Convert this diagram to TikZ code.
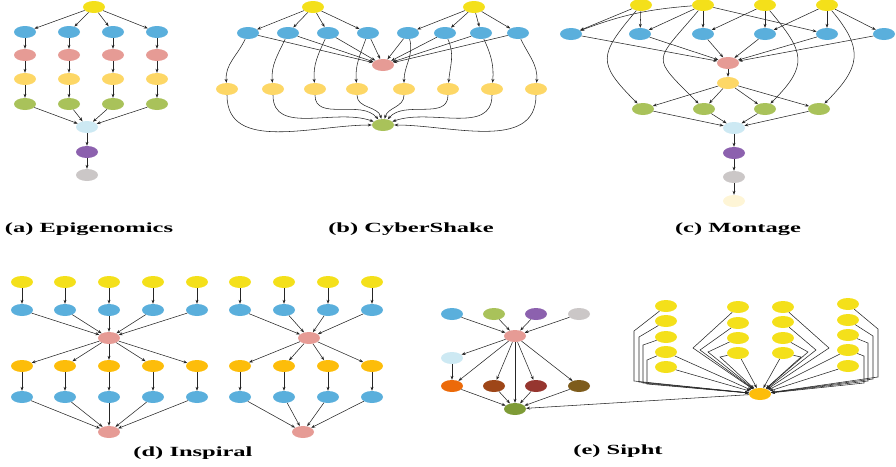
\documentclass[tikz,border=0pt]{standalone}
\usepackage{fontspec}
\setmainfont{Liberation Serif}
\usetikzlibrary{arrows.meta,shapes.geometric}

\definecolor{wfyellow}{HTML}{F4E01A}
\definecolor{wfblue}{HTML}{5AAFDC}
\definecolor{wfpink}{HTML}{E69B95}
\definecolor{wfsand}{HTML}{FDD766}
\definecolor{wfgreen}{HTML}{A9C25A}
\definecolor{wfsky}{HTML}{CDE9F3}
\definecolor{wfpurple}{HTML}{8C61AE}
\definecolor{wfgray}{HTML}{CBC7C7}
\definecolor{wfcream}{HTML}{FEF5D6}
\definecolor{wforange}{HTML}{FDBD0A}
\definecolor{siorange}{HTML}{EC6A09}
\definecolor{sibrown}{HTML}{9E4618}
\definecolor{sired}{HTML}{96362F}
\definecolor{siolive}{HTML}{7E5C1C}
\definecolor{sidkgreen}{HTML}{7E9B36}

\begin{document}
\begin{tikzpicture}[x=1pt, y=-1pt]
\tikzstyle{job}=[ellipse, minimum width=22pt, minimum height=12pt, inner sep=0pt]
\tikzstyle{link}=[-{Stealth[length=4pt,width=3pt]}, black!85, line width=0.55pt]
\tikzstyle{caption}=[font=\fontsize{14}{16}\selectfont\bfseries, xscale=1.75]

\useasboundingbox (0,0) rectangle (896,466);

% (a) Epigenomics
\node[job, fill=wfyellow] (epi-top) at (94,7) {};
\node[job, fill=wfsky] (epi-sky) at (87,127) {};
\node[job, fill=wfpurple] (epi-pur) at (87,152) {};
\node[job, fill=wfgray] (epi-gry) at (87,175) {};
\foreach \i/\x in {1/25,2/69,3/113,4/157} {
    \node[job, fill=wfblue] (epi-b\i) at (\x,32) {};
    \node[job, fill=wfpink] (epi-p\i) at (\x,55) {};
    \node[job, fill=wfsand] (epi-s\i) at (\x,79) {};
    \node[job, fill=wfgreen] (epi-g\i) at (\x,104) {};
    \draw[link] (epi-top) -- (epi-b\i);
    \draw[link] (epi-b\i) -- (epi-p\i);
    \draw[link] (epi-p\i) -- (epi-s\i);
    \draw[link] (epi-s\i) -- (epi-g\i);
    \draw[link] (epi-g\i) -- (epi-sky);
};
\draw[link] (epi-sky) -- (epi-pur);
\draw[link] (epi-pur) -- (epi-gry);
\node[caption] (cap-a) at (89,229) {(a) Epigenomics};

% (b) CyberShake
\node[job, fill=wfyellow] (cyb-t1) at (313,7) {};
\node[job, fill=wfyellow] (cyb-t2) at (474,7) {};
\node[job, fill=wfpink] (cyb-pink) at (383,65) {};
\node[job, fill=wfgreen] (cyb-grn) at (383,125) {};
\foreach \i/\x/\t/\s/\bo/\bi/\gi in {1/248/1/227/-115/95/180, 2/288/1/273/-115/95/160,
        3/328/1/315/-115/95/130, 4/368/1/357/-110/95/105, 5/408/2/404/-75/90/75,
        6/445/2/448/-65/85/50, 7/481/2/492/-65/85/20, 8/518/2/536/-65/85/0} {
    \node[job, fill=wfblue] (cyb-b\i) at (\x,33) {};
    \node[job, fill=wfsand] (cyb-s\i) at (\s,89) {};
    \draw[link] (cyb-t\t) -- (cyb-b\i);
    \draw[link] (cyb-b\i) -- (cyb-pink);
    \draw[link] (cyb-b\i) to[out=\bo, in=\bi] (cyb-s\i);
    \draw[link] (cyb-s\i) to[out=-90, in=\gi] (cyb-grn);
};
\node[caption] (cap-b) at (411,229) {(b) CyberShake};

% (c) Montage
\foreach \i/\x in {1/641,2/703,3/765,4/827}
    \node[job, fill=wfyellow] (mon-t\i) at (\x,5) {};
\foreach \i/\x in {1/571,2/640,3/703,4/765,5/827,6/884}
    \node[job, fill=wfblue] (mon-b\i) at (\x,34) {};
\node[job, fill=wfpink] (mon-pink) at (728,63) {};
\node[job, fill=wfsand] (mon-sand) at (728,83) {};
\node[job, fill=wfsky] (mon-sky) at (734,128) {};
\node[job, fill=wfpurple] (mon-pur) at (734,153) {};
\node[job, fill=wfgray] (mon-gry) at (734,177) {};
\node[job, fill=wfcream] (mon-crm) at (734,201) {};
\foreach \i/\x in {1/643,2/704,3/765,4/819} {
    \node[job, fill=wfgreen] (mon-g\i) at (\x,109) {};
    \draw[link] (mon-sand) -- (mon-g\i);
    \draw[link] (mon-g\i) -- (mon-sky);
};
\foreach \t/\b in {1/1,1/2,2/2,2/3,2/5,3/3,3/4,4/4,4/5,4/6}
    \draw[link] (mon-t\t) -- (mon-b\b);
\draw[link] (mon-t2) to[bend right=8] (mon-b1);
\foreach \b in {1,...,6}
    \draw[link] (mon-b\b) -- (mon-pink);
\draw[link] (mon-t1) to[out=-130, in=135, looseness=1.6] (mon-g1);
\draw[link] (mon-t2) to[out=-130, in=135, looseness=1.9] (mon-g2);
\draw[link] (mon-t3) to[out=-50, in=45, looseness=1.5] (mon-g3);
\draw[link] (mon-t4) to[out=-50, in=45, looseness=1.4] (mon-g4);
\draw[link] (mon-pink) -- (mon-sand);
\draw[link] (mon-sky) -- (mon-pur);
\draw[link] (mon-pur) -- (mon-gry);
\draw[link] (mon-gry) -- (mon-crm);
\node[caption] (cap-c) at (738,229) {(c) Montage};

% (d) Inspiral
\node[job, fill=wfpink] (ins-p1) at (109,338) {};
\node[job, fill=wfpink] (ins-p2) at (309,338) {};
\node[job, fill=wfpink] (ins-q1) at (109,432) {};
\node[job, fill=wfpink] (ins-q2) at (303,432) {};
\foreach \i/\x/\g in {1/22/1,2/65/1,3/109/1,4/153/1,5/197/1,6/240/2,7/284/2,8/328/2,9/372/2} {
    \node[job, fill=wfyellow] (ins-y\i) at (\x,282) {};
    \node[job, fill=wfblue] (ins-b\i) at (\x,310) {};
    \node[job, fill=wforange] (ins-o\i) at (\x,366) {};
    \node[job, fill=wfblue] (ins-c\i) at (\x,397) {};
    \draw[link] (ins-y\i) -- (ins-b\i);
    \draw[link] (ins-b\i) -- (ins-p\g);
    \draw[link] (ins-p\g) -- (ins-o\i);
    \draw[link] (ins-o\i) -- (ins-c\i);
    \draw[link] (ins-c\i) -- (ins-q\g);
};
\node[caption] (cap-d) at (193,453) {(d) Inspiral};

% (e) Sipht
\node[job, fill=wfpink] (sip-pink) at (515,336) {};
\node[job, fill=wfsky] (sip-sky) at (452,358) {};
\node[job, fill=sidkgreen] (sip-grn) at (515,409) {};
\foreach \i/\x/\c in {1/452/wfblue,2/494/wfgreen,3/536/wfpurple,4/579/wfgray}
    \node[job, fill=\c] (sip-t\i) at (\x,314) {};
\foreach \i/\x/\c in {1/452/siorange,2/494/sibrown,3/536/sired,4/579/siolive}
    \node[job, fill=\c] (sip-m\i) at (\x,386) {};
\foreach \i in {1,...,4} {
    \draw[link] (sip-t\i) -- (sip-pink);
    \draw[link] (sip-pink) -- (sip-m\i);
    \draw[link] (sip-m\i) -- (sip-grn);
};
\draw[link] (sip-pink) -- (sip-sky);
\draw[link] (sip-sky) -- (sip-m1);
\draw[link] (sip-pink) -- (sip-grn);

% patser fan
\node[job, fill=wforange] (fan-or) at (760,394) {};
\foreach \j/\y in {1/306,2/321,3/337,4/352,5/367}
    \node[job, fill=wfyellow] (fan-a\j) at (666,\y) {};
\foreach \j/\y in {1/307,2/323,3/338,4/353}
    \node[job, fill=wfyellow] (fan-b\j) at (738,\y) {};
\foreach \j/\y in {1/307,2/322,3/338,4/353}
    \node[job, fill=wfyellow] (fan-c\j) at (783,\y) {};
\foreach \j/\y in {1/304,2/320,3/335,4/350,5/366}
    \node[job, fill=wfyellow] (fan-d\j) at (848,\y) {};
\foreach \j/\vx/\vy/\vz in {1/634/331/381, 2/639/337/382, 3/643/345/383, 4/647/360/384}
    \draw[link] (fan-a\j) -- (\vx,\vy) -- (\vx,\vz) -- (fan-or);
\foreach \j/\vx/\vy in {1/693/348, 2/700/350, 3/708/352, 4/720/357}
    \draw[link] (fan-b\j) -- (\vx,\vy) -- (fan-or);
\foreach \j/\vx/\vy in {1/829/348, 2/816/350, 3/808/352, 4/801/357}
    \draw[link] (fan-c\j) -- (\vx,\vy) -- (fan-or);
\foreach \j/\vx/\vy/\vz in {1/878/329/377, 2/873/336/379, 3/868/343/381, 4/864/356/383}
    \draw[link] (fan-d\j) -- (\vx,\vy) -- (\vx,\vz) -- (fan-or);
\foreach \n in {fan-a4,fan-a5,fan-b4,fan-c4,fan-d4,fan-d5}
    \draw[link] (\n) -- (fan-or);
\draw[link] (fan-or) -- (sip-grn);
\node[caption] (cap-e) at (618,451) {(e) Sipht};

\end{tikzpicture}
\end{document}
